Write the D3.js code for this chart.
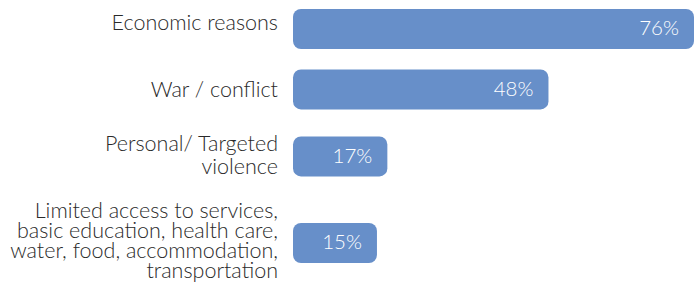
<!DOCTYPE html>
<html>
<head>
<meta charset="utf-8">
<script src="https://cdn.jsdelivr.net/npm/d3@7"></script>
<style>
  body { margin: 0; background: #fff; }
  text { font-family: Lato, "Open Sans", sans-serif; font-weight: 300; }
</style>
</head>
<body>
<svg id="chart"></svg>
<script>
// data
const categories = [
  ["Economic reasons"],
  ["War / conflict"],
  ["Personal/ Targeted", "violence"],
  ["Limited access to services,", "basic education, health care,", "water, food, accommodation,", "transportation"]
];
const values = [76, 48, 17, 15];

const width = 699;
const height = 287;
const barColor = "#678fc9";
const barHeight = 40;

// label layout tweaks (per row): vertical nudge and line spacing
const labelNudge = [-7, 0, -2, -3];
const labelLineHeight = [20, 20, 23, 20];

const svg = d3.select("#chart").attr("width", width).attr("height", height);

// vertical layout: distance between rows grows with label line count
const gapBase = 47;
const gapPerLine = 13;
const units = [0];
for (let i = 1; i < categories.length; i++) {
  units.push(units[i - 1] + gapBase + gapPerLine * (categories[i - 1].length + categories[i].length) / 2);
}
const yScale = d3.scaleLinear().domain([0, units[units.length - 1]]).range([29, 243]);

// bars start a few px left of the zero point (rounded ends)
const barStart = 293;
const xScale = d3.scaleLinear().domain([0, 76]).range([299, 694]);

const rows = values.map((v, i) => ({ value: v, label: categories[i], y: yScale(units[i]), i }));

// bars
svg.append("g")
  .selectAll("rect")
  .data(rows)
  .join("rect")
  .attr("x", barStart)
  .attr("y", (d) => d.y - barHeight / 2)
  .attr("width", (d) => xScale(d.value) - barStart)
  .attr("height", barHeight)
  .attr("rx", 8)
  .attr("ry", 8)
  .attr("fill", barColor);

// value labels
svg.append("g")
  .selectAll("text")
  .data(rows)
  .join("text")
  .attr("x", (d) => xScale(d.value) - 15)
  .attr("y", (d) => d.y - 1)
  .attr("dy", "0.36em")
  .attr("text-anchor", "end")
  .attr("fill", "#fff")
  .attr("font-size", 20.5)
  .text((d) => d.value + "%");

// category labels
const labels = svg.append("g")
  .selectAll("text")
  .data(rows)
  .join("text")
  .attr("text-anchor", "end")
  .attr("fill", "#2a2a2a")
  .attr("font-size", 21.5);

labels.selectAll("tspan")
  .data((d) => d.label.map((line, j) => ({
    line, j, n: d.label.length,
    y: d.y + labelNudge[d.i],
    lh: labelLineHeight[d.i]
  })))
  .join("tspan")
  .attr("x", 278)
  .attr("y", (t) => t.y + (t.j - (t.n - 1) / 2) * t.lh)
  .attr("dy", "0.36em")
  .text((t) => t.line);
</script>
</body>
</html>
